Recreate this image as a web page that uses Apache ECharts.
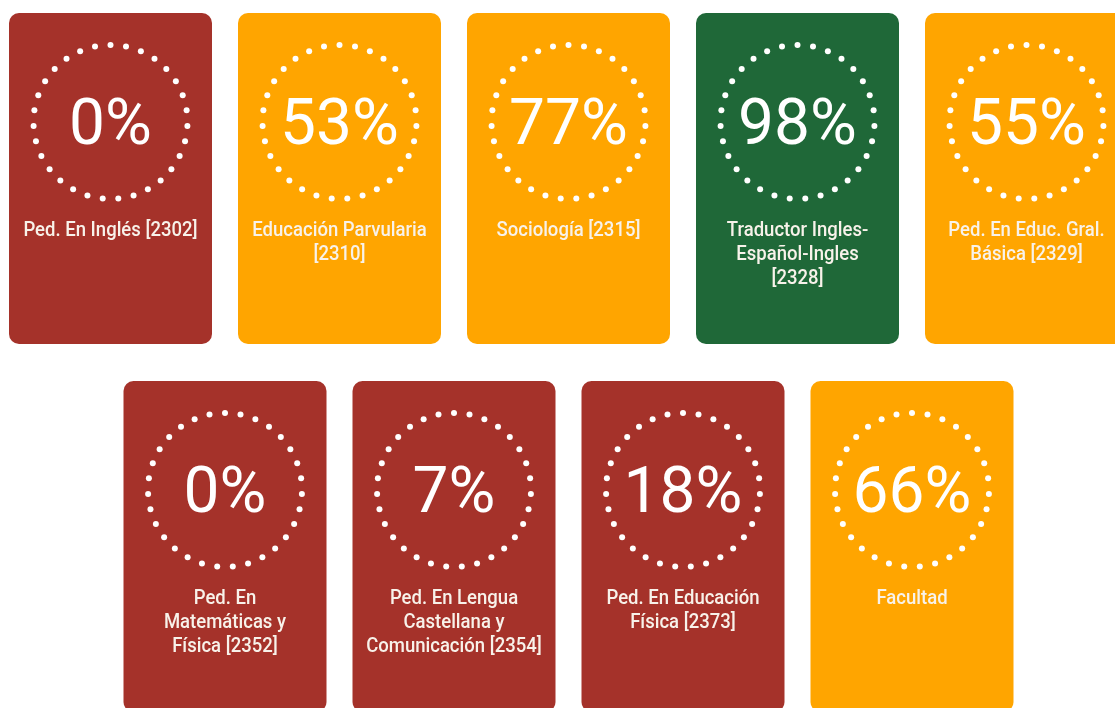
<!DOCTYPE html>
<html>
<head>
<meta charset="utf-8">
<script src="https://cdn.jsdelivr.net/npm/echarts@6/dist/echarts.min.js"></script>
<style>
html,body{margin:0;padding:0;background:#fff;}
#chart{width:1115px;height:708px;}
</style>
</head>
<body>
<div id="chart"></div>
<script>
// ---- data ----
const programs = [
  'Ped. En Inglés [2302]',
  'Educación Parvularia\n[2310]',
  'Sociología [2315]',
  'Traductor Ingles-\nEspañol-Ingles\n[2328]',
  'Ped. En Educ. Gral.\nBásica [2329]',
  'Ped. En\nMatemáticas y\nFísica [2352]',
  'Ped. En Lengua\nCastellana y\nComunicación [2354]',
  'Ped. En Educación\nFísica [2373]',
  'Facultad'
];
const percents = [0, 53, 77, 98, 55, 0, 7, 18, 66];

// ---- styling ----
const RED = '#A5322A', ORANGE = '#FFA500', GREEN = '#1F6838';
function colorFor(v){ return v >= 90 ? GREEN : (v >= 50 ? ORANGE : RED); }

const perRow = 5;
const seriesData = percents.map((v, i) => {
  const row = Math.floor(i / perRow);
  const col = (i % perRow) + row * 0.5;
  return [col, row, v, programs[i]];
});

const SLOT_W = 229, SLOT_H = 368;
const chart = echarts.init(document.getElementById('chart'));
chart.setOption({
  animation: false,
  grid: {left: 0, right: 0, top: 0, bottom: 0},
  xAxis: {type: 'value', min: -110.5 / SLOT_W, max: (1115 - 110.5) / SLOT_W, show: false},
  yAxis: {type: 'value', inverse: true, min: -13 / SLOT_H, max: (708 - 13) / SLOT_H, show: false},
  series: [{
    type: 'custom',
    coordinateSystem: 'cartesian2d',
    encode: {x: 0, y: 1},
    data: seriesData,
    renderItem: function (params, api) {
      const p = api.coord([api.value(0), api.value(1)]);
      const unit = api.size([1, 1]);
      const w = unit[0] * 203 / SLOT_W;
      const h = unit[1] * 331 / SLOT_H;
      const v = api.value(2);
      const name = seriesData[params.dataIndex][3];
      const cx = p[0], cy = p[1] + 109;
      const R = 77;
      const n = 31;
      const children = [{
        type: 'rect',
        shape: {x: cx - w / 2, y: p[1], width: w, height: h, r: 10},
        style: {fill: colorFor(v)}
      }];
      for (let k = 0; k < n; k++) {
        const a = -Math.PI / 2 + k * 2 * Math.PI / n;
        children.push({
          type: 'circle',
          shape: {cx: cx + R * Math.cos(a), cy: cy + R * Math.sin(a), r: 3},
          style: {fill: '#fff'}
        });
      }
      children.push({
        type: 'text',
        x: cx, y: cy + 6,
        style: {
          text: v + '%', fill: '#fff',
          font: '400 64px Roboto, "Noto Sans", sans-serif',
          align: 'center', verticalAlign: 'middle'
        }
      });
      children.push({
        type: 'text',
        x: cx, y: p[1] + 206,
        scaleX: 0.95,
        style: {
          text: name, fill: '#F8F2EA',
          font: '500 19.5px Roboto, "Noto Sans", sans-serif',
          lineHeight: 24,
          align: 'center', verticalAlign: 'top'
        }
      });
      return {type: 'group', children: children};
    }
  }]
});
</script>
</body>
</html>
